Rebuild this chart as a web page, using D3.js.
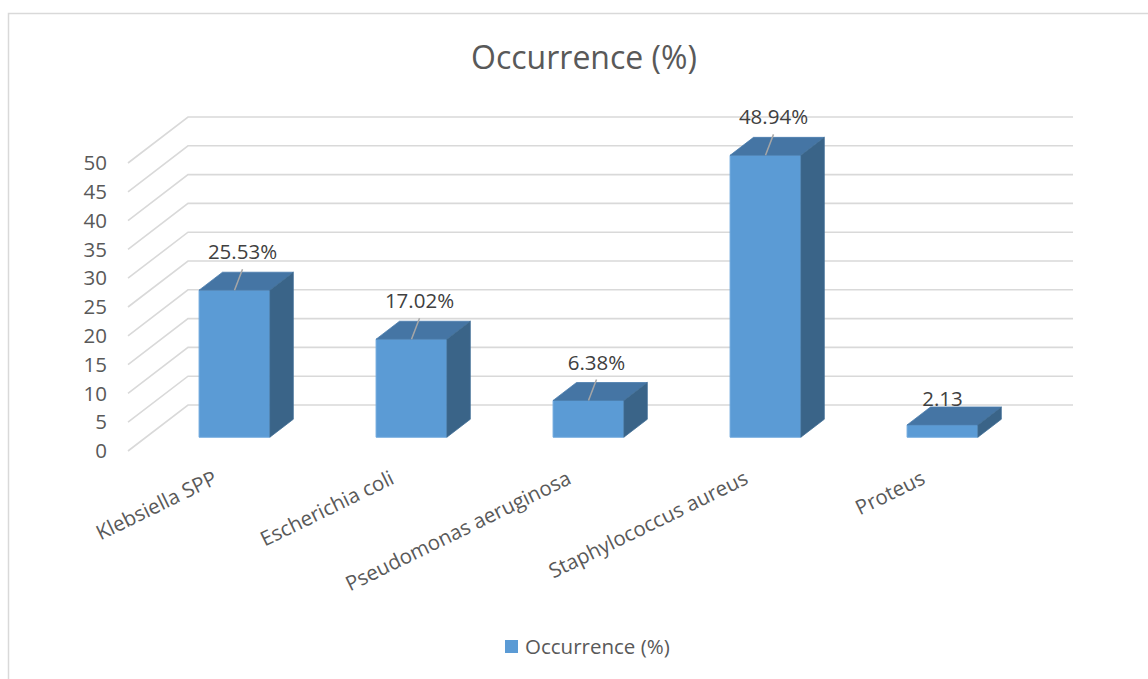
<!DOCTYPE html>
<html>
<head>
<meta charset="utf-8">
<script src="https://cdn.jsdelivr.net/npm/d3@7"></script>
<style>
  html, body { margin: 0; padding: 0; background: #ffffff; }
  svg { display: block; font-family: "Open Sans", "Noto Sans", sans-serif; }
</style>
</head>
<body>
<svg id="chart" width="1148" height="679"></svg>
<script>
// Bacterial isolates and their share of occurrence
const categories = ["Klebsiella SPP", "Escherichia coli", "Pseudomonas aeruginosa", "Staphylococcus aureus", "Proteus"];
const occurrence = [25.53, 17.02, 6.38, 48.94, 2.13];
const labelSuffix = ["%", "%", "%", "%", ""];
const yTicks = [0, 5, 10, 15, 20, 25, 30, 35, 40, 45, 50];
const seriesName = "Occurrence (%)";
const chartTitle = "Occurrence (%)";

const svg = d3.select("#chart");

// Chart area frame (only top and left edges fall inside the window)
svg.append("rect")
  .attr("x", 8.5).attr("y", 13.5)
  .attr("width", 1160).attr("height", 700)
  .attr("fill", "#ffffff")
  .attr("stroke", "#d9d9d9").attr("stroke-width", 1.5);

// Oblique 3D projection: depth 0 = front of floor, depth 1 = back wall
const DEPTH_DX = 60, DEPTH_DY = -46;
const y = d3.scaleLinear().domain([0, 50]).range([451, 163]);
const x = d3.scaleBand().domain(categories).range([128, 1013])
  .paddingInner(0.6).paddingOuter(0.3);
const proj = (px, v, depth) => [px + depth * DEPTH_DX, y(v) + depth * DEPTH_DY];

// Gridlines: diagonal side-wall segment plus horizontal back-wall line
const grid = svg.append("g").attr("stroke", "#d9d9d9").attr("stroke-width", 1.6).attr("fill", "none");
const x0 = x.range()[0], x1 = x.range()[1];
yTicks.forEach(t => {
  const a = proj(x0, t, 0), b = proj(x0, t, 1), c = proj(x1, t, 1);
  grid.append("path").attr("d", `M${a[0]},${a[1]}L${b[0]},${b[1]}L${c[0]},${c[1]}`);
});

// Value axis labels
svg.append("g").selectAll("text").data(yTicks).join("text")
  .attr("x", 107).attr("y", d => y(d))
  .attr("dy", "0.35em")
  .attr("text-anchor", "end")
  .attr("font-size", 20.5)
  .attr("fill", "#595959")
  .text(d => d);

// Bars as boxes: front, top and side faces
const BAR_D0 = 0.3, BAR_D1 = 0.69;
const pt = p => p.join(",");
const bars = svg.append("g");
categories.forEach((cat, i) => {
  const v = occurrence[i];
  const xl = x(cat), xr = x(cat) + x.bandwidth();
  const fBL = proj(xl, 0, BAR_D0), fBR = proj(xr, 0, BAR_D0);
  const fTL = proj(xl, v, BAR_D0), fTR = proj(xr, v, BAR_D0);
  const bTL = proj(xl, v, BAR_D1), bTR = proj(xr, v, BAR_D1), bBR = proj(xr, 0, BAR_D1);
  const g = bars.append("g");
  g.append("polygon").attr("points", [fBL, fBR, fTR, fTL].map(pt).join(" "))
    .attr("fill", "#5b9bd5").attr("stroke", "#6aa6dc").attr("stroke-width", 1);
  g.append("polygon").attr("points", [fTL, fTR, bTR, bTL].map(pt).join(" "))
    .attr("fill", "#4575a4").attr("stroke", "#4a7cad").attr("stroke-width", 0.8);
  g.append("polygon").attr("points", [fBR, bBR, bTR, fTR].map(pt).join(" "))
    .attr("fill", "#3a6488").attr("stroke", "#416e95").attr("stroke-width", 0.8);
});

// Data labels with leader lines
const labels = svg.append("g");
categories.forEach((cat, i) => {
  const v = occurrence[i];
  const cx = x(cat) + x.bandwidth() / 2;
  const front = proj(cx, v, BAR_D0);
  const back = proj(cx, v, BAR_D1);
  const roomy = v >= 5;
  const lx = front[0] + (roomy ? 8 : 0);
  const ly = back[1] - (roomy ? 13 : 1);
  if (roomy) {
    labels.append("line")
      .attr("x1", front[0]).attr("y1", front[1])
      .attr("x2", lx).attr("y2", ly + 10)
      .attr("stroke", "#a6a6a6").attr("stroke-width", 1.5);
  }
  labels.append("text")
    .attr("x", lx).attr("y", ly)
    .attr("text-anchor", "middle")
    .attr("font-size", 20.5)
    .attr("fill", "#404040")
    .text(d3.format(".2f")(v) + labelSuffix[i]);
});

// Category labels, rotated
svg.append("g").selectAll("text").data(categories).join("text")
  .attr("transform", d => `translate(${x(d) + x.bandwidth() / 2 + 2},483) rotate(-26)`)
  .attr("text-anchor", "end")
  .attr("font-size", 20.5)
  .attr("fill", "#595959")
  .text(d => d);

// Title
svg.append("text")
  .attr("x", 584).attr("y", 69)
  .attr("text-anchor", "middle")
  .attr("font-size", 32)
  .attr("fill", "#595959")
  .text(chartTitle);

// Legend
const legend = svg.append("g").attr("transform", "translate(505,640)");
legend.append("rect").attr("width", 13).attr("height", 13).attr("fill", "#5b9bd5");
legend.append("text").attr("x", 20).attr("y", 7).attr("dy", "0.35em")
  .attr("font-size", 20.5).attr("fill", "#595959").text(seriesName);
</script>
</body>
</html>
